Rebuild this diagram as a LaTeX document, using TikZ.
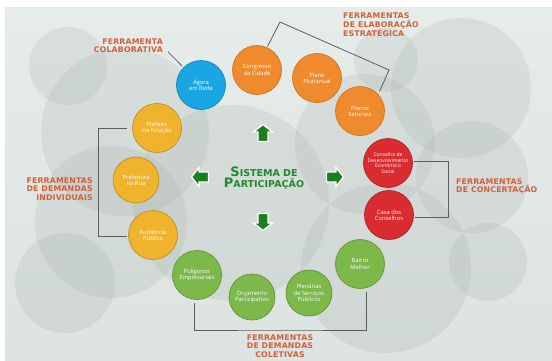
\documentclass[tikz,border=0pt]{standalone}
\usepackage{fontspec}
\setmainfont{Open Sans}
\newfontfamily\labfont{DejaVu Sans}[LetterSpace=2]
\newfontfamily\titfont{DejaVu Sans}
\usetikzlibrary{calc}
\definecolor{bgtop}{HTML}{E6ECEA}
\definecolor{bgbot}{HTML}{DCE3E1}
\definecolor{bub}{HTML}{A9B3AE}
\definecolor{cblue}{HTML}{1AA6E2}
\definecolor{corange}{HTML}{EF8A2D}
\definecolor{cred}{HTML}{D92B30}
\definecolor{cyellow}{HTML}{EFB32E}
\definecolor{cgreen}{HTML}{7DB84A}
\definecolor{labc}{HTML}{D2603A}
\definecolor{titc}{HTML}{1E8A2B}
\definecolor{arrc}{HTML}{1B7F22}
\definecolor{linec}{HTML}{5A5F5D}
\begin{document}
\begin{tikzpicture}[x=1pt,y=-1pt,
  tool/.style={circle, inner sep=0pt, minimum size=49pt, text=white, line width=0.7pt,
    font=\fontsize{5.8}{6.3}\selectfont, align=center},
  toolblue/.style={tool, fill=cblue, draw=cblue!80!black},
  toolorange/.style={tool, fill=corange, draw=corange!85!black},
  toolred/.style={tool, fill=cred, draw=cred!80!black},
  toolyellow/.style={tool, fill=cyellow, draw=cyellow!80!black},
  toolgreen/.style={tool, fill=cgreen, draw=cgreen!80!black},
  bubble/.style={fill=bub, fill opacity=0.23},
  lab/.style={text=labc, font=\labfont\bfseries\fontsize{7.8}{8.4}\selectfont, inner sep=0pt},
  conn/.style={draw=linec, line width=0.8pt},
  garrow/.pic={\draw[line width=1.3pt, draw=white, fill=arrc, line join=miter]
     (0,-8.5)--(9.5,-1)--(5,-1)--(5,8.5)--(-5,8.5)--(-5,-1)--(-9.5,-1)--cycle;}
]
\useasboundingbox (0,0) rectangle (552,360);
\fill[white] (0,0) rectangle (552,360);
\shade[top color=bgtop, bottom color=bgbot] (5,7) rectangle (552,360);
\begin{scope}
\clip (5,7) rectangle (552,360);
\fill[bubble] (68,66) circle (39);
\fill[bubble] (125,132) circle (84);
\fill[bubble] (111,222) circle (76);
\fill[bubble] (65,283) circle (50);
\fill[bubble] (231,203) circle (98);
\fill[bubble] (365,144) circle (70);
\fill[bubble] (386,60) circle (32);
\fill[bubble] (461,88) circle (70);
\fill[bubble] (472,177) circle (56);
\fill[bubble] (386,268) circle (85);
\fill[bubble] (488,262) circle (39);
\end{scope}

% tools
\node[toolblue] (agora) at (201,85) {Ágora\\em Rede};
\node[toolorange] (congresso) at (257,70) {Congresso\\da Cidade};
\node[toolorange] (plano) at (317,78) {Plano\\Plurianual};
\node[toolorange] (setoriais) at (360,111) {Planos\\Setoriais};
\node[toolred, font=\fontsize{5}{5.5}\selectfont] (conselho) at (388,163) {Conselho de\\Desenvolvimento\\Econômico\\Social};
\node[toolred] (casa) at (389,215) {Casa dos\\Conselhos};
\node[toolgreen] (bairro) at (360,264) {Bairro\\Melhor};
\node[toolgreen, minimum size=46pt] (plenarias) at (309,293) {Plenárias\\de Serviços\\Públicos};
\node[toolgreen, minimum size=46pt] (orcamento) at (252,297) {Orçamento\\Participativo};
\node[toolgreen] (poligonos) at (197,275) {Polígonos\\Empresariais};
\node[toolyellow] (prefeito) at (157,128) {Prefeito\\na Estação};
\node[toolyellow, minimum size=46pt] (rua) at (136,180) {Prefeitura\\na Rua};
\node[toolyellow] (audiencia) at (153,235) {Audiência\\Pública};

% centre
\node[text=titc, align=center, font=\titfont\bfseries, inner sep=0pt] (title) at (264,178)
  {{\fontsize{13}{13}\selectfont S}{\fontsize{9.5}{9.5}\selectfont ISTEMA DE}\\[-1pt]
   {\fontsize{13}{13}\selectfont P}{\fontsize{9.5}{9.5}\selectfont ARTICIPAÇÃO}};
\pic at (263,133) {garrow};
\pic[rotate=90] at (200,177) {garrow};
\pic[rotate=-90] at (335,177) {garrow};
\pic[rotate=180] at (263,222) {garrow};

% labels
\node[lab, anchor=east, align=right] (colab) at (163,45.5) {FERRAMENTA\\COLABORATIVA};
\node[lab, anchor=west, align=left] (elab) at (343,25) {FERRAMENTAS\\DE ELABORAÇÃO\\ESTRATÉGICA};
\node[lab, anchor=west, align=left] (conc) at (456,186.5) {FERRAMENTAS\\DE CONCERTAÇÃO};
\node[lab, anchor=east, align=right] (indiv) at (93,189) {FERRAMENTAS\\DE DEMANDAS\\INDIVIDUAIS};
\node[lab, align=center] (colet) at (280,346) {FERRAMENTAS\\DE DEMANDAS\\COLETIVAS};

% connectors
\coordinate (e1) at (280,22);
\coordinate (e2) at (389,70);
\coordinate (ib) at (98,128);
\coordinate (cb) at (280,330);
\draw[conn, shorten >=2pt] ([shift={(5,-1)}]colab.south east) -- (agora.135);
\draw[conn, shorten <=1pt] (congresso.66) -- (e1) -- (e2) -- ([shift={(2,-2)}]setoriais.45);
\draw[conn] ([xshift=1pt,yshift=2pt]conselho.east) -- ++(35,0) |- ([xshift=1pt,yshift=-2pt]casa.east);
\draw[conn] ([xshift=-5pt]prefeito.west) -- (ib) |- ([xshift=-1pt,yshift=-1pt]audiencia.west);
\draw[conn] ([xshift=-3pt,yshift=-3pt]poligonos.south) |- (cb) -| ([xshift=6pt,yshift=-3pt]bairro.south);
\end{tikzpicture}
\end{document}
